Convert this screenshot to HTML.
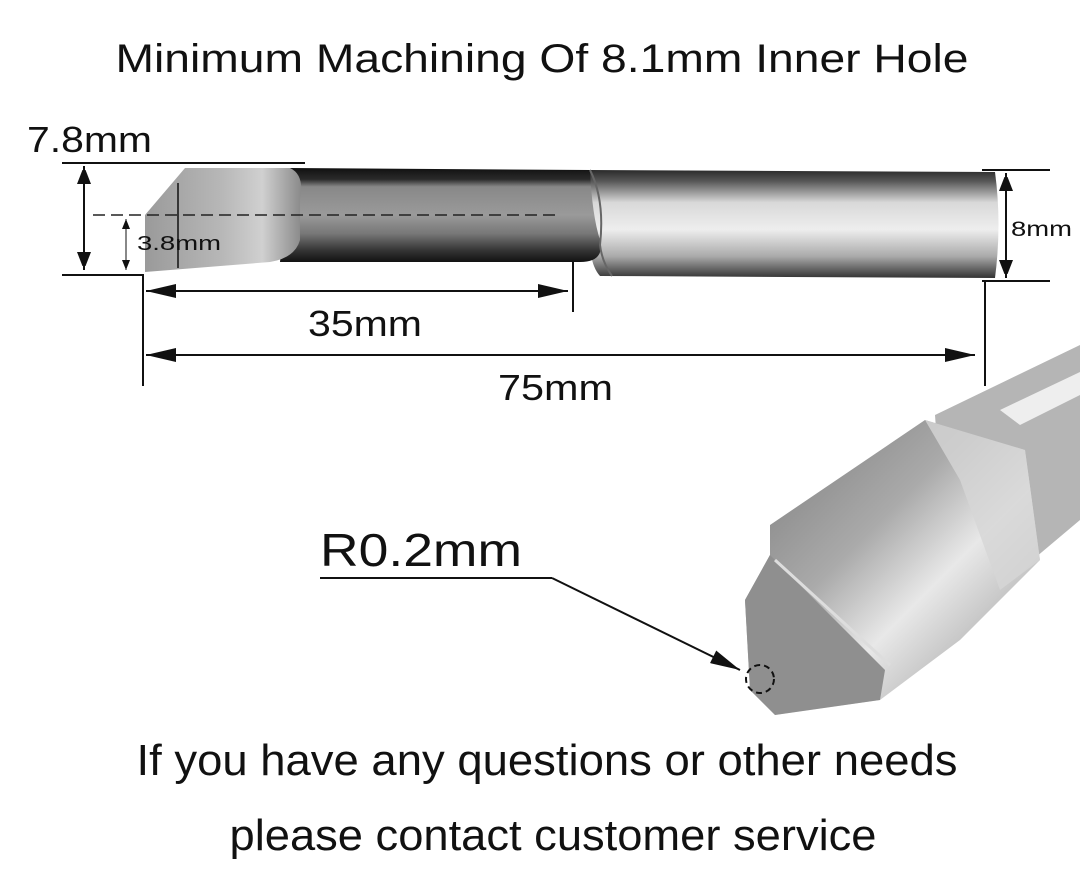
<!DOCTYPE html>
<html><head><meta charset="utf-8"><style>
html,body{margin:0;padding:0;background:#fff;}
svg{display:block}
text{font-family:"Liberation Sans",sans-serif;fill:#111}
</style></head><body>
<svg width="1080" height="881" viewBox="0 0 1080 881" xmlns="http://www.w3.org/2000/svg">
<defs>
<linearGradient id="shank" x1="0" y1="0" x2="0" y2="1">
<stop offset="0" stop-color="#2a2a2a"/><stop offset="0.1" stop-color="#555"/><stop offset="0.3" stop-color="#d8d8d8"/><stop offset="0.55" stop-color="#eeeeee"/><stop offset="0.8" stop-color="#aaa"/><stop offset="1" stop-color="#333"/>
</linearGradient>
<linearGradient id="neck" x1="0" y1="0" x2="0" y2="1">
<stop offset="0" stop-color="#111"/><stop offset="0.12" stop-color="#2a2a2a"/><stop offset="0.2" stop-color="#888"/><stop offset="0.5" stop-color="#9a9a9a"/><stop offset="0.7" stop-color="#777"/><stop offset="0.88" stop-color="#333"/><stop offset="1" stop-color="#111"/>
</linearGradient>
<linearGradient id="tip" x1="0" y1="0" x2="1" y2="0">
<stop offset="0" stop-color="#9a9a9a"/><stop offset="0.5" stop-color="#b8b8b8"/><stop offset="0.75" stop-color="#d0d0d0"/><stop offset="1" stop-color="#8a8a8a"/>
</linearGradient>
<linearGradient id="big" x1="0" y1="0" x2="1" y2="1">
<stop offset="0" stop-color="#777"/><stop offset="0.4" stop-color="#aaa"/><stop offset="0.6" stop-color="#e8e8e8"/><stop offset="1" stop-color="#888"/>
</linearGradient>
<marker id="ah" viewBox="0 0 14 18" markerWidth="14" markerHeight="18" refX="18" refY="7" orient="auto-start-reverse" markerUnits="userSpaceOnUse"><path d="M0,0 L18,7 L0,14z" fill="#111"/></marker>
<marker id="as" viewBox="0 0 10 8" markerWidth="10" markerHeight="8" refX="10" refY="4" orient="auto-start-reverse" markerUnits="userSpaceOnUse"><path d="M0,0 L10,4 L0,8z" fill="#111"/></marker>
<marker id="ab" viewBox="0 0 30 14" markerWidth="30" markerHeight="14" refX="30" refY="7" orient="auto-start-reverse" markerUnits="userSpaceOnUse"><path d="M0,0 L30,7 L0,14z" fill="#111"/></marker>
</defs>

<text x="542" y="72" font-size="40" text-anchor="middle" textLength="853" lengthAdjust="spacingAndGlyphs">Minimum Machining Of 8.1mm Inner Hole</text>

<path d="M590,170 L995,172 Q1002,224 995,278 L600,276 Q590,265 590,240 Z" fill="url(#shank)"/>
<path d="M290,168 L590,170 Q592,215 600,240 Q605,262 580,262 L280,262 Z" fill="url(#neck)"/>
<path d="M590,170 Q605,200 600,245 Q602,262 612,276" fill="none" stroke="#666" stroke-width="2"/>
<path d="M185,168 L290,168 Q305,175 300,200 L300,240 Q295,258 270,262 L145,272 L145,215 Z" fill="url(#tip)"/>
<line x1="178" y1="183" x2="178" y2="268" stroke="#111" stroke-width="1.5"/>

<line x1="93" y1="215" x2="555" y2="215" stroke="#222" stroke-width="1.5" stroke-dasharray="12,6"/>
<line x1="62" y1="163" x2="305" y2="163" stroke="#111" stroke-width="2"/>
<path d="M62,275 L143,275 L143,386" fill="none" stroke="#111" stroke-width="2"/>
<line x1="84" y1="166" x2="84" y2="270" stroke="#111" stroke-width="2" marker-start="url(#ah)" marker-end="url(#ah)"/>
<line x1="126" y1="219" x2="126" y2="270" stroke="#111" stroke-width="1" marker-start="url(#as)" marker-end="url(#as)"/>
<text x="137" y="250" font-size="20" textLength="84" lengthAdjust="spacingAndGlyphs">3.8mm</text>
<text x="27" y="152" font-size="36" textLength="125" lengthAdjust="spacingAndGlyphs">7.8mm</text>
<line x1="573" y1="262" x2="573" y2="312" stroke="#111" stroke-width="2"/>
<line x1="146" y1="291" x2="568" y2="291" stroke="#111" stroke-width="2" marker-start="url(#ab)" marker-end="url(#ab)"/>
<text x="308" y="336" font-size="36" textLength="114" lengthAdjust="spacingAndGlyphs">35mm</text>
<line x1="146" y1="355" x2="975" y2="355" stroke="#111" stroke-width="2" marker-start="url(#ab)" marker-end="url(#ab)"/>
<text x="498" y="400" font-size="36" textLength="115" lengthAdjust="spacingAndGlyphs">75mm</text>
<line x1="982" y1="170" x2="1050" y2="170" stroke="#111" stroke-width="2"/>
<line x1="982" y1="281" x2="1050" y2="281" stroke="#111" stroke-width="2"/>
<line x1="985" y1="281" x2="985" y2="386" stroke="#111" stroke-width="2"/>
<line x1="1006" y1="173" x2="1006" y2="278" stroke="#111" stroke-width="2" marker-start="url(#ah)" marker-end="url(#ah)"/>
<text x="1011" y="236" font-size="21" textLength="61" lengthAdjust="spacingAndGlyphs">8mm</text>

<path d="M935,415 L1080,345 L1080,520 L985,600 L950,630 Z" fill="#b5b5b5"/>
<path d="M1000,410 L1080,372 L1080,395 L1020,425 Z" fill="#eee"/>
<path d="M770,525 L925,420 L1025,450 L1040,560 L960,640 L880,700 L775,715 L750,690 L745,600 L770,555 Z" fill="url(#big)"/>
<path d="M745,600 L770,555 L885,670 L880,700 L775,715 L750,690 Z" fill="#8f8f8f"/>
<path d="M775,560 L890,665" stroke="#ddd" stroke-width="3"/>
<path d="M925,420 L1025,450 L1040,560 L1000,590 L960,480 Z" fill="#d6d6d6" opacity="0.8"/>

<text x="320" y="566" font-size="46" textLength="202" lengthAdjust="spacingAndGlyphs">R0.2mm</text>
<line x1="320" y1="578" x2="552" y2="578" stroke="#111" stroke-width="2"/>
<line x1="552" y1="578" x2="740" y2="670" stroke="#111" stroke-width="2" marker-end="url(#ab)"/>
<circle cx="760" cy="679" r="14" fill="none" stroke="#111" stroke-width="2" stroke-dasharray="6,4"/>

<text x="547" y="775" font-size="44" text-anchor="middle" textLength="821" lengthAdjust="spacingAndGlyphs">If you have any questions or other needs</text>
<text x="553" y="850" font-size="44" text-anchor="middle" textLength="647" lengthAdjust="spacingAndGlyphs">please contact customer service</text>
</svg>
</body></html>
